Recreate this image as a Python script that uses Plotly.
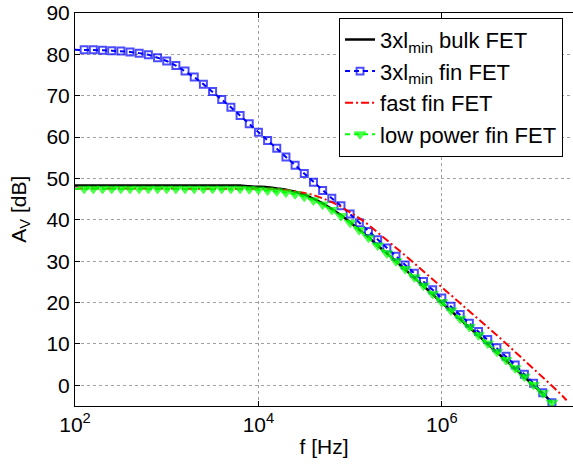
import plotly.graph_objects as go

# frequency grid as decade exponents (f = 10**exp Hz)
FREQ_EXP = [2.0, 2.1, 2.2, 2.3, 2.4, 2.5, 2.6, 2.7, 2.8, 2.9,
            3.0, 3.1, 3.2, 3.3, 3.4, 3.5, 3.6, 3.7, 3.8, 3.9,
            4.0, 4.1, 4.2, 4.3, 4.4, 4.5, 4.6, 4.7, 4.8, 4.9,
            5.0, 5.1, 5.2, 5.3, 5.4, 5.5, 5.6, 5.7, 5.8, 5.9,
            6.0, 6.1, 6.2, 6.3, 6.4, 6.5, 6.6, 6.7, 6.8, 6.9,
            7.0, 7.1, 7.2]
RED_EXP = FREQ_EXP + [7.3, 7.36]

# gain in dB
BULK_3X = [48.3, 48.3, 48.3, 48.3, 48.3, 48.3, 48.3, 48.3, 48.3, 48.3,
           48.3, 48.3, 48.3, 48.3, 48.3, 48.3, 48.3, 48.3, 48.3, 48.1,
           48.0, 47.9, 47.6, 47.3, 46.8, 46.1, 45.1, 44.0, 42.6, 41.1,
           39.4, 37.6, 35.8, 33.8, 31.9, 30.0, 28.0, 26.0, 24.0, 22.0,
           20.0, 18.0, 16.0, 14.0, 12.0, 10.0, 8.0, 6.0, 4.0, 2.0,
           0.0, -2.0, -4.1]
FIN_3X = [81.1, 81.1, 81.1, 81.0, 80.9, 80.8, 80.6, 80.3, 79.9, 79.2,
          78.4, 77.3, 76.0, 74.5, 72.8, 71.0, 69.1, 67.2, 65.2, 63.2,
          61.2, 59.2, 57.3, 55.2, 53.2, 51.2, 49.1, 47.1, 45.2, 43.4,
          41.4, 39.3, 37.2, 35.2, 33.2, 31.2, 29.1, 27.1, 25.1, 23.1,
          21.1, 19.1, 17.1, 15.0, 13.0, 11.1, 9.1, 7.0, 4.9, 2.7,
          0.5, -1.8, -4.2]
FAST_FIN = [47.6, 47.6, 47.6, 47.6, 47.6, 47.6, 47.6, 47.6, 47.6, 47.6,
            47.6, 47.6, 47.6, 47.6, 47.6, 47.6, 47.6, 47.6, 47.6, 47.6,
            47.6, 47.5, 47.4, 47.2, 46.9, 46.5, 46.0, 45.2, 44.3, 43.2,
            41.9, 40.4, 38.8, 37.0, 35.2, 33.3, 31.4, 29.5, 27.5, 25.6,
            23.7, 21.8, 19.9, 18.0, 16.0, 14.1, 12.1, 10.1, 8.1, 6.1,
            4.1, 2.0, -0.1, -2.2, -3.6]
LOW_POWER_FIN = [47.5, 47.5, 47.5, 47.5, 47.5, 47.5, 47.5, 47.5, 47.5, 47.5,
                 47.5, 47.5, 47.5, 47.5, 47.5, 47.5, 47.5, 47.5, 47.5, 47.4,
                 47.3, 47.1, 46.9, 46.6, 46.2, 45.6, 44.7, 43.7, 42.4, 40.9,
                 39.3, 37.5, 35.7, 33.8, 31.9, 30.0, 28.1, 26.1, 24.1, 22.1,
                 20.1, 18.1, 16.1, 14.1, 12.1, 10.1, 8.1, 6.1, 4.1, 2.1,
                 0.1, -1.9, -4.2]

X_TICKS = [1e2, 1e4, 1e6]
X_TICK_TEXT = ["10<sup>2</sup>", "10<sup>4</sup>", "10<sup>6</sup>"]

freq = [10 ** e for e in FREQ_EXP]
freq_red = [10 ** e for e in RED_EXP]

FONT = "Liberation Sans, Arial, Helvetica, sans-serif"
# no marker on the very first sample (it sits on the axis)
msize_sq = [0] + [7] * (len(freq) - 1)
msize_tri = [0] + [10] * (len(freq) - 1)

fig = go.Figure()
fig.add_trace(go.Scatter(x=freq, y=BULK_3X, mode="lines", name="3xl<sub>min</sub> bulk FET",
                         line=dict(color="black", width=2.5, shape="spline")))
fig.add_trace(go.Scatter(x=freq, y=FIN_3X, mode="lines+markers", name="3xl<sub>min</sub> fin FET",
                         line=dict(color="#0000ff", width=2, dash="5px,4px"),
                         marker=dict(symbol="square-open", size=msize_sq, color="#0000ff",
                                     line=dict(width=2, color="#0000ff"))))
fig.add_trace(go.Scatter(x=freq_red, y=FAST_FIN, mode="lines", name="fast fin FET",
                         line=dict(color="#ff0000", width=2, dash="8px,3px,2px,3px")))
fig.add_trace(go.Scatter(x=freq, y=LOW_POWER_FIN, mode="lines+markers", name="low power fin FET",
                         line=dict(color="#00ff00", width=2, dash="5px,4px"),
                         marker=dict(symbol="triangle-down", size=msize_tri, color="#00ff00",
                                     line=dict(width=1, color="#00ff00"))))

axis_common = dict(showline=True, linecolor="black", linewidth=1, ticks="inside", ticklen=5,
                   tickcolor="black", showgrid=True, gridcolor="#a0a0a0", griddash="dot",
                   gridwidth=1, zeroline=False, tickfont=dict(size=21, color="black"))

fig.update_xaxes(type="log", range=[2, 7.43], tickvals=X_TICKS, ticktext=X_TICK_TEXT,
                 mirror="ticks", title=dict(text="f [Hz]", font=dict(size=21), standoff=4),
                 **axis_common)
fig.update_yaxes(range=[-5, 90], tick0=0, dtick=10, mirror=False, **axis_common)

# y label placed by hand, MATLAB keeps it close to the figure edge
fig.add_annotation(text="A<sub>V</sub> [dB]", xref="paper", yref="paper",
                   x=-0.112, y=0.5, xanchor="center", yanchor="middle",
                   textangle=-90, showarrow=False, font=dict(size=21))

fig.update_layout(
    width=573, height=464,
    margin=dict(l=75, r=0, t=13, b=58, autoexpand=False),
    paper_bgcolor="white", plot_bgcolor="white",
    font=dict(family=FONT, size=21, color="black"),
    showlegend=True,
    legend=dict(x=0.98, xanchor="right", y=0.988, yanchor="top",
                bgcolor="white", bordercolor="black", borderwidth=1,
                font=dict(size=22), tracegroupgap=0, itemwidth=30),
)

# page body has a default 8px margin; drop it so the figure sits at the window corner
fig.write_html("out.html", config={"displayModeBar": False},
               post_script="document.body.style.margin='0';")
